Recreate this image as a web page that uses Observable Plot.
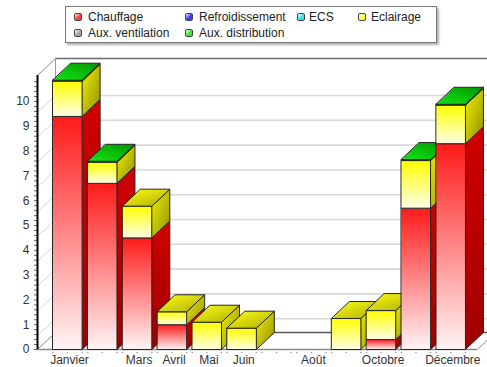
<!DOCTYPE html>
<html>
<head>
<meta charset="utf-8">
<script src="https://cdn.jsdelivr.net/npm/d3@7"></script>
<script src="https://cdn.jsdelivr.net/npm/@observablehq/plot@0.6"></script>
<style>
  html, body { margin: 0; padding: 0; background: #fff; }
  body { width: 487px; height: 367px; position: relative; overflow: hidden; font-family: "Liberation Sans", Arial, sans-serif; }
  #legend { position: absolute; left: 65px; top: 6px; width: 370px; height: 35px; border: 1px solid #7a7a7a; background: #fff; box-shadow: 2px 2px 2px #b0b0b0; }
  .item { position: absolute; font-size: 12px; color: #222; line-height: 14px; white-space: nowrap; }
  .sw { position: absolute; width: 6px; height: 6px; border: 1px solid #444; border-radius: 2px; }
  #chart { position: absolute; left: 0; top: 50px; }
</style>
</head>
<body>
<svg width="0" height="0" style="position:absolute">
  <defs id="grads"></defs>
</svg>
<div id="legend"></div>
<div id="chart"></div>
<script>
// ---- data ----
const months = ["Janvier","Février","Mars","Avril","Mai","Juin","Juillet","Août","Septembre","Octobre","Novembre","Décembre"];
const shownLabels = ["Janvier","Mars","Avril","Mai","Juin","Août","Octobre","Décembre"];
const yTicks = [0,1,2,3,4,5,6,7,8,9,10];
const seriesNames = ["Chauffage","Refroidissement","ECS","Eclairage","Aux. ventilation","Aux. distribution"];
const chauffage        = [9.4, 6.7, 4.5, 1.0, 0, 0, 0, 0, 0, 0.4, 5.7, 8.3];
const refroidissement  = [0, 0, 0, 0, 0, 0, 0, 0, 0, 0, 0, 0];
const ecs              = [0, 0, 0, 0, 0, 0, 0, 0, 0, 0, 0, 0];
const eclairage        = [1.42, 0.85, 1.28, 0.52, 1.1, 0.86, 0, 0, 1.25, 1.17, 1.92, 1.55];
const auxVentilation   = [0, 0, 0, 0, 0, 0, 0, 0, 0, 0, 0, 0];
const auxDistribution  = [0.04, 0.04, 0, 0, 0, 0, 0, 0, 0, 0, 0.04, 0.04];
const seriesValues = [chauffage, refroidissement, ecs, eclairage, auxVentilation, auxDistribution];
const legendColors = ["#ff3b3b", "#3b3bff", "#3be6e6", "#ffff3b", "#a6a6a6", "#3be63b"];

// ---- gradients (styles) ----
const faceStyles = [
  {front: ["#ff1a1a", "#fff4f4", "v"], side: ["#d00000", "#a00000", "v"], top: ["#ff3030", "#b00000", "d"]},
  {front: ["#2020ff", "#f0f0ff", "v"], side: ["#0000c0", "#000090", "v"], top: ["#3030ff", "#0000b0", "d"]},
  {front: ["#20e0e0", "#f0ffff", "v"], side: ["#00a8a8", "#008080", "v"], top: ["#30f0f0", "#00a0a0", "d"]},
  {front: ["#ffff00", "#ffffe8", "v"], side: ["#f0f000", "#8f8f00", "d"], top: ["#ffff1a", "#adad00", "d"]},
  {front: ["#a0a0a0", "#f4f4f4", "v"], side: ["#808080", "#606060", "v"], top: ["#b0b0b0", "#707070", "d"]},
  {front: ["#00e000", "#d8ffd8", "v"], side: ["#00b000", "#008000", "v"], top: ["#14e614", "#009600", "t"]}
];
const defs = d3.select("#grads");
faceStyles.forEach((fs, si) => {
  for (const kind of ["front", "side", "top"]) {
    const [c0, c1, dir] = fs[kind];
    const g = defs.append("linearGradient").attr("id", `g${kind}${si}`);
    if (dir === "v") g.attr("x1", 0).attr("y1", 0).attr("x2", 0).attr("y2", 1);
    else if (dir === "d") g.attr("x1", 0).attr("y1", 0).attr("x2", 1).attr("y2", 1);
    else g.attr("x1", 0).attr("y1", 1).attr("x2", 1).attr("y2", 0);
    g.append("stop").attr("offset", "0%").attr("stop-color", c0);
    g.append("stop").attr("offset", "100%").attr("stop-color", c1);
  }
});

// ---- legend ----
const legendPos = [
  {sx: 8, tx: 22, ty: 3}, {sx: 119, tx: 133, ty: 3}, {sx: 231, tx: 243, ty: 3}, {sx: 292, tx: 305, ty: 3},
  {sx: 8, tx: 22, ty: 19}, {sx: 119, tx: 133, ty: 19}
];
const leg = d3.select("#legend");
seriesNames.forEach((name, i) => {
  const p = legendPos[i];
  leg.append("div").attr("class", "sw")
    .style("left", p.sx + "px").style("top", (p.ty + 3) + "px")
    .style("background", `linear-gradient(135deg, #fff 0%, ${legendColors[i]} 55%, ${legendColors[i]} 100%)`);
  leg.append("div").attr("class", "item")
    .style("left", p.tx + "px").style("top", p.ty + "px").text(name);
});

// ---- chart geometry ----
const W = 487, H = 317, mL = 37, mR = 10, mT = 25, mB = 18;
const xMin = -0.861, xMax = 11.765, yMax = 11.05;
const pxX = (W - mL - mR) / (xMax - xMin);
const pxY = (H - mT - mB) / yMax;
const D = 18 / pxX;      // depth along x (data units)
const E = 17 / pxY;      // depth along y (data units)
const hw = 14.6 / pxX;   // half bar width
const gridShift = 6 / pxY;

// faces as polygons
const rows = [];
let fid = 0;
months.forEach((m, i) => {
  let base = 0;
  const segs = [];
  seriesValues.forEach((vals, si) => {
    const v = vals[i];
    if (v > 0) { segs.push({si, v0: base, v1: base + v}); base += v; }
  });
  const xl = i - hw, xr = i + hw;
  const poly = (pts, fill) => { const id = fid++; pts.forEach(([x, y]) => rows.push({id, x, y, fill})); };
  segs.forEach(s => {
    poly([[xr, s.v0], [xr + D, s.v0 + E], [xr + D, s.v1 + E], [xr, s.v1]], `url(#gside${s.si})`);
    poly([[xl, s.v0], [xr, s.v0], [xr, s.v1], [xl, s.v1]], `url(#gfront${s.si})`);
  });
  if (segs.length) {
    const t = segs[segs.length - 1];
    poly([[xl, t.v1], [xr, t.v1], [xr + D, t.v1 + E], [xl + D, t.v1 + E]], `url(#gtop${t.si})`);
  }
});

const gridVals = yTicks.filter(v => v > 0);
const minorVals = d3.range(0, 55).map(k => k * 0.2).filter(v => v <= yMax);
const xDots = months.flatMap((m, i) => [i - hw, i, i + hw]);
const labelRows = shownLabels.map(l => ({label: l, i: months.indexOf(l)}));

const plot = Plot.plot({
  width: W, height: H,
  marginLeft: mL, marginRight: mR, marginTop: mT, marginBottom: mB,
  x: {domain: [xMin, xMax], axis: null},
  y: {domain: [0, yMax], axis: null},
  color: {type: "identity"},
  style: {background: "transparent", fontFamily: "'Liberation Sans', Arial, sans-serif", fontSize: "12px", color: "#333", overflow: "visible"},
  marks: [
    // back wall gridlines
    Plot.ruleY(gridVals, {y: v => v + gridShift, x1: xMin + D, x2: xMax + 2 * D, stroke: "#d9d9d9", strokeWidth: 1.6}),
    // left wall hatch lines
    Plot.link(gridVals, {x1: xMin, y1: v => v - 11 / pxY, x2: xMin + D, y2: v => v + gridShift, stroke: "#d4d4d4", strokeWidth: 1}),
    // back floor line
    Plot.ruleY([E], {x1: xMin + D, x2: xMax + 2 * D, stroke: "#5a5a5a", strokeWidth: 1.5}),
    // back wall top
    Plot.ruleY([yMax + E], {x1: xMin + D, x2: xMax + 2 * D, stroke: "#6a6a6a", strokeWidth: 1.5}),
    // left wall back edge
    Plot.ruleX([xMin + D], {y1: E, y2: yMax + E, stroke: "#9a9a9a", strokeWidth: 1}),
    // diagonals
    Plot.link([{x: xMin, y: 0}, {x: xMin, y: yMax}, {x: xMax, y: 0}], {x1: "x", y1: "y", x2: d => d.x + D, y2: d => d.y + E, stroke: "#8a8a8a", strokeWidth: 1}),
    // front floor edge
    Plot.ruleY([0], {x1: xMin, x2: xMax, stroke: "#8a8a8a", strokeWidth: 1.5}),
    // bars
    Plot.line(rows, {x: "x", y: "y", z: "id", fill: "fill", stroke: "#262626", strokeWidth: 1, curve: "linear-closed", strokeLinejoin: "round"}),
    // y axis
    Plot.ruleY(minorVals, {x1: xMin - 3 / pxX, x2: xMin, stroke: "#666", strokeWidth: 1}),
    Plot.ruleX([xMin], {y1: 0, y2: yMax, stroke: "#000", strokeWidth: 2}),
    Plot.text(yTicks, {x: xMin, y: d => d, text: d => String(d), dx: -8, textAnchor: "end", fill: "#333", fontSize: 12}),
    // x axis
    Plot.dot(xDots, {x: d => d, y: 0, dy: 3, r: 0.8, fill: "#999"}),
    Plot.text(labelRows, {x: "i", y: 0, text: "label", dy: 10.5, dx: 2, fill: "#333", fontSize: 12})
  ]
});
document.getElementById("chart").appendChild(plot);
</script>
</body>
</html>
